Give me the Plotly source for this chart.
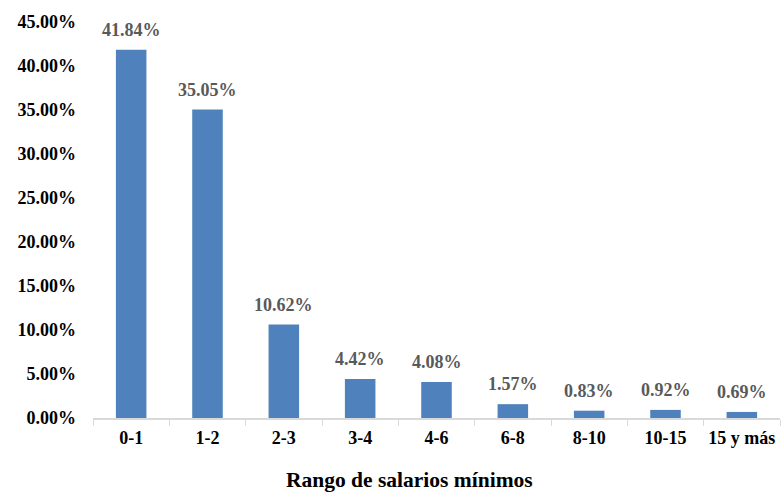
import plotly.graph_objects as go

# Distribution by minimum-wage range
rangos = ["0-1", "1-2", "2-3", "3-4", "4-6", "6-8", "8-10", "10-15", "15 y más"]
porcentajes = [41.84, 35.05, 10.62, 4.42, 4.08, 1.57, 0.83, 0.92, 0.69]
valores = [p / 100 for p in porcentajes]

FONT = "Liberation Serif"
BAR_COLOR = "#4F81BD"
LABEL_COLOR = "#595959"

fig = go.Figure()
fig.add_trace(go.Bar(
    x=rangos,
    y=valores,
    marker=dict(color=BAR_COLOR, line=dict(width=0)),
    width=0.4,
    hoverinfo="x+y",
))

# Value labels above each bar
for r, v in zip(rangos, valores):
    fig.add_annotation(
        x=r, y=v, text=f"{v*100:.2f}%",
        showarrow=False, yanchor="bottom", yshift=8,
        font=dict(family=FONT, size=18, color=LABEL_COLOR, weight="bold"),
    )

# Axis title
fig.add_annotation(
    xref="paper", yref="paper", x=0.461, y=0, yshift=-62, yanchor="middle",
    text="Rango de salarios mínimos", showarrow=False,
    font=dict(family=FONT, size=21.5, color="#000000", weight="bold"),
)

fig.update_layout(
    width=782, height=493,
    margin=dict(l=93, r=2, t=22, b=75),
    paper_bgcolor="white", plot_bgcolor="white",
    showlegend=False,
    font=dict(family=FONT, size=18, color="#000000"),
    bargap=0.6,
)
fig.update_xaxes(
    type="category", tickangle=0, automargin=False,
    showline=True, linecolor="#D9D9D9", linewidth=1.5,
    ticks="outside", tickson="boundaries", tickcolor="#D9D9D9", ticklen=6,
    tickfont=dict(family=FONT, size=18, color="#000000", weight="bold"),
    ticklabelstandoff=3,
    showgrid=False,
)
fig.update_yaxes(
    range=[0, 0.45], dtick=0.05, tickformat=".2%", automargin=False,
    showgrid=False, zeroline=False, showline=False,
    tickfont=dict(family=FONT, size=18, color="#000000", weight="bold"),
    ticklabelstandoff=16,
)

fig.write_html("out.html")
